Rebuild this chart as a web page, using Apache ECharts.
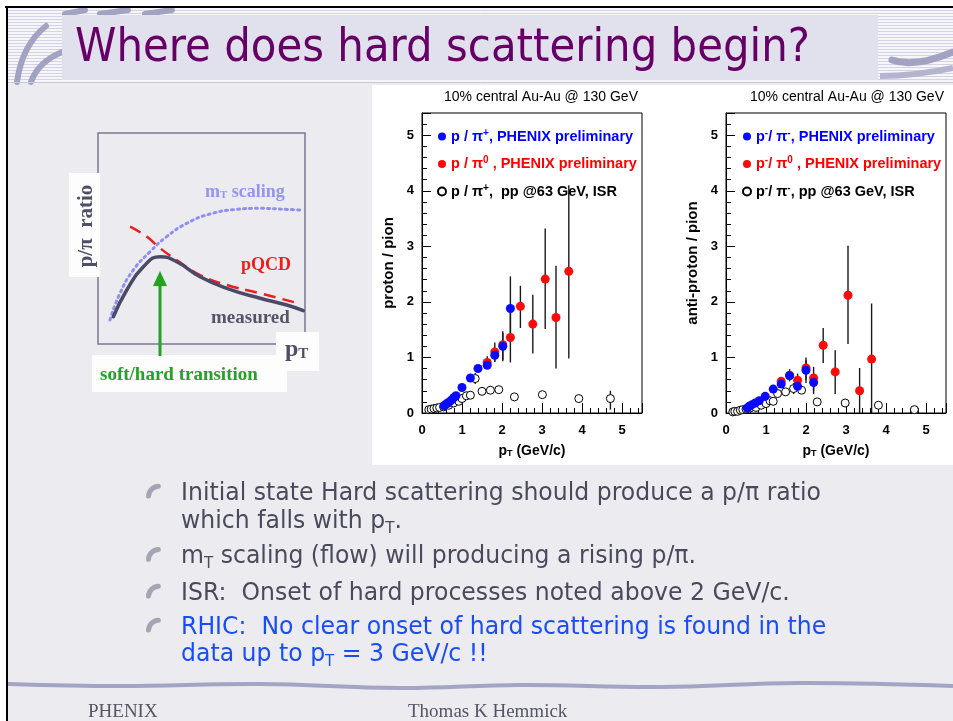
<!DOCTYPE html>
<html>
<head>
<meta charset="utf-8">
<script src="https://cdn.jsdelivr.net/npm/echarts@6/dist/echarts.min.js"></script>
<style>
html,body{margin:0;padding:0;background:#fff;}
#slide{width:953px;height:721px;}
</style>
</head>
<body>
<div id="slide"></div>
<script>
// schematic curves (frame spans 0..10 in both directions)
var measuredX = [0.74, 1.39, 2.19, 3.0, 3.8, 4.93, 6.22, 7.83, 9.12, 9.92];
var measuredY = [1.29, 2.56, 3.66, 4.14, 3.90, 3.19, 2.64, 2.17, 1.85, 1.58];
var pqcdX = [1.55, 2.35, 3.0, 3.8, 4.93, 6.22, 7.83, 9.68];
var pqcdY = [5.56, 5.09, 4.54, 3.98, 3.27, 2.80, 2.40, 1.93];
var mtX = [0.58, 1.06, 1.71, 2.51, 3.32, 4.29, 5.41, 6.70, 7.83, 9.12, 9.76];
var mtY = [1.14, 2.40, 3.51, 4.37, 5.09, 5.72, 6.16, 6.38, 6.43, 6.38, 6.35];

// proton / pion, PHENIX p/pi+ (blue)
var pPipX  = [0.55, 0.6, 0.65, 0.7, 0.75, 0.8, 0.85, 1.0, 1.21, 1.40, 1.63, 1.82, 2.02, 2.21];
var pPipY  = [0.13, 0.16, 0.18, 0.21, 0.24, 0.28, 0.31, 0.46, 0.63, 0.80, 0.86, 1.04, 1.20, 1.88];
var pPipLo = [0.12, 0.15, 0.17, 0.20, 0.23, 0.27, 0.30, 0.44, 0.60, 0.75, 0.79, 0.92, 0.96, 1.30];
var pPipHi = [0.14, 0.17, 0.19, 0.22, 0.25, 0.29, 0.32, 0.48, 0.66, 0.85, 0.93, 1.16, 1.44, 2.46];
// proton / pion, PHENIX p/pi0 (red)
var pPi0X  = [1.63, 1.82, 2.02, 2.21, 2.46, 2.77, 3.08, 3.35, 3.67];
var pPi0Y  = [0.91, 1.10, 1.23, 1.36, 1.92, 1.60, 2.41, 1.72, 2.55];
var pPi0Lo = [0.80, 0.93, 0.93, 0.91, 1.53, 1.07, 1.51, 0.80, 0.98];
var pPi0Hi = [1.02, 1.27, 1.47, 1.80, 2.29, 2.13, 3.32, 2.65, 4.10];
// proton / pion, ISR pp @ 63 GeV (open)
var pIsrX  = [0.17, 0.23, 0.30, 0.37, 0.44, 0.54, 0.67, 0.79, 0.92, 1.00, 1.11, 1.21, 1.33, 1.50, 1.71, 1.92, 2.31, 3.01, 3.92, 4.71];
var pIsrY  = [0.06, 0.07, 0.08, 0.09, 0.10, 0.11, 0.14, 0.18, 0.21, 0.26, 0.31, 0.32, 0.62, 0.39, 0.41, 0.42, 0.29, 0.33, 0.26, 0.26];
var pIsrLo = [0.05, 0.06, 0.07, 0.08, 0.09, 0.10, 0.13, 0.17, 0.20, 0.24, 0.29, 0.30, 0.52, 0.37, 0.39, 0.40, 0.27, 0.27, 0.22, 0.06];
var pIsrHi = [0.07, 0.08, 0.09, 0.10, 0.11, 0.12, 0.15, 0.19, 0.22, 0.28, 0.33, 0.34, 0.72, 0.41, 0.43, 0.44, 0.31, 0.39, 0.30, 0.40];

// anti-proton / pion, PHENIX pbar/pi- (blue)
var aPimX  = [0.53, 0.58, 0.65, 0.73, 0.83, 0.98, 1.18, 1.38, 1.59, 1.79, 2.00, 2.19];
var aPimY  = [0.09, 0.12, 0.15, 0.18, 0.22, 0.30, 0.43, 0.52, 0.67, 0.48, 0.77, 0.55];
var aPimLo = [0.08, 0.11, 0.14, 0.17, 0.21, 0.28, 0.40, 0.48, 0.60, 0.40, 0.60, 0.40];
var aPimHi = [0.10, 0.13, 0.16, 0.19, 0.23, 0.32, 0.46, 0.56, 0.74, 0.56, 0.95, 0.70];
// anti-proton / pion, PHENIX pbar/pi0 (red)
var aPi0X  = [1.38, 1.59, 1.79, 2.00, 2.19, 2.43, 2.73, 3.05, 3.34, 3.64];
var aPi0Y  = [0.57, 0.68, 0.59, 0.81, 0.63, 1.22, 0.74, 2.12, 0.40, 0.97];
var aPi0Lo = [0.50, 0.57, 0.48, 0.54, 0.34, 0.90, 0.34, 1.24, 0.00, 0.00];
var aPi0Hi = [0.64, 0.79, 0.71, 1.00, 0.83, 1.53, 1.13, 3.01, 0.81, 1.97];
// anti-proton / pion, ISR pp @ 63 GeV (open)
var aIsrX  = [0.17, 0.22, 0.29, 0.36, 0.42, 0.50, 0.60, 0.75, 0.88, 1.00, 1.10, 1.18, 1.29, 1.49, 1.69, 1.89, 2.28, 2.98, 3.81, 4.71];
var aIsrY  = [0.02, 0.03, 0.03, 0.05, 0.06, 0.07, 0.09, 0.10, 0.14, 0.17, 0.22, 0.21, 0.35, 0.38, 0.44, 0.41, 0.20, 0.18, 0.14, 0.06];
var aIsrLo = [0.01, 0.02, 0.02, 0.04, 0.05, 0.06, 0.08, 0.09, 0.13, 0.16, 0.20, 0.19, 0.30, 0.34, 0.34, 0.37, 0.18, 0.16, 0.12, 0.00];
var aIsrHi = [0.03, 0.04, 0.04, 0.06, 0.07, 0.08, 0.10, 0.11, 0.15, 0.18, 0.24, 0.23, 0.40, 0.42, 0.54, 0.45, 0.22, 0.20, 0.16, 0.12];

var plotTitle = '10% central Au-Au @ 130 GeV';
var bullets = [
  '{n|Initial state Hard scattering should produce a p/\u03c0 ratio}',
  '{n|which falls with p}{s|T}{n|.}',
  '{n|m}{s|T}{n| scaling (flow) will producing a rising p/\u03c0.}',
  '{n|ISR:  Onset of hard processes noted above 2 GeV/c.}',
  '{b|RHIC:  No clear onset of hard scattering is found in the}',
  '{b|data up to p}{bs|T}{b| = 3 GeV/c !!}'
];
var bulletBase = [501.7, 530, 565, 601.7, 635.7, 663.3];
var bulletMarks = [0, 2, 3, 4];

var plotFont = '"Liberation Sans", Arial, sans-serif';
var slideFont = '"DejaVu Sans", Verdana, sans-serif';
var serifFont = '"Liberation Serif", "Times New Roman", serif';

var measureCtx = document.createElement('canvas').getContext('2d');
function textWidth(str, font) {
  measureCtx.font = font;
  return measureCtx.measureText(str).width;
}
function pts(xs, ys) { return xs.map(function (x, i) { return [x, ys[i]]; }); }
function bars(xs, lo, hi) { return xs.map(function (x, i) { return [x, lo[i], hi[i]]; }); }

function errorBarItem(params, api) {
  var a = api.coord([api.value(0), api.value(2)]);
  var b = api.coord([api.value(0), api.value(1)]);
  return {
    type: 'line',
    shape: { x1: a[0], y1: a[1], x2: b[0], y2: b[1] },
    style: { stroke: '#1a1a1a', lineWidth: 1.4 }
  };
}
function errSeries(gi, data) {
  return { type: 'custom', xAxisIndex: gi, yAxisIndex: gi, data: data, renderItem: errorBarItem,
    encode: { x: 0, y: [1, 2] }, silent: true, z: 3 };
}
function dotSeries(gi, name, data, color, z) {
  return { type: 'scatter', name: name, xAxisIndex: gi, yAxisIndex: gi, data: data,
    symbol: 'circle', symbolSize: 9, itemStyle: { color: color, opacity: 1 }, silent: true, z: z };
}
function ringSeries(gi, name, data) {
  return { type: 'scatter', name: name, xAxisIndex: gi, yAxisIndex: gi, data: data,
    symbol: 'circle', symbolSize: 8, itemStyle: { color: '#ffffff', borderColor: '#000', borderWidth: 1, opacity: 1 },
    silent: true, z: 4 };
}
function intLabel(v) { return Math.abs(v - Math.round(v)) < 1e-6 ? String(Math.round(v)) : ''; }

var axisText = { fontFamily: plotFont, fontWeight: 'bold', fontSize: 13, color: '#000' };
function plotX(gi) {
  return {
    gridIndex: gi, type: 'value', min: 0, max: 5.5, interval: 1,
    name: 'p{s|T} (GeV/c)', nameLocation: 'middle', nameGap: 31,
    nameTextStyle: { fontFamily: plotFont, fontWeight: 'bold', fontSize: 14, color: '#000',
      rich: { s: { fontFamily: plotFont, fontWeight: 'bold', fontSize: 9, lineHeight: 8, verticalAlign: 'bottom', color: '#000' } } },
    axisLine: { lineStyle: { color: '#000', width: 1 } },
    axisTick: { inside: true, length: 10, lineStyle: { color: '#000' } },
    minorTick: { show: true, splitNumber: 5, length: 5, lineStyle: { color: '#000' } },
    splitLine: { show: false },
    axisLabel: Object.assign({ margin: 11, formatter: intLabel }, axisText)
  };
}
function plotY(gi, name) {
  return {
    gridIndex: gi, type: 'value', min: 0, max: 5.4, interval: 1,
    name: name, nameLocation: 'middle', nameGap: 26,
    nameTextStyle: { fontFamily: plotFont, fontWeight: 'bold', fontSize: 15, color: '#000' },
    axisLine: { lineStyle: { color: '#000', width: 1 } },
    axisTick: { inside: true, length: 9, lineStyle: { color: '#000' } },
    minorTick: { show: true, splitNumber: 5, length: 5, lineStyle: { color: '#000' } },
    splitLine: { show: false },
    axisLabel: Object.assign({ margin: 8, formatter: intLabel }, axisText)
  };
}

var legendLabels = {
  'pBlue': 'p / \u03c0{supB|+}, PHENIX preliminary',
  'pRed': 'p / \u03c0{supR|0} , PHENIX preliminary',
  'pIsr': 'p / \u03c0{supK|+},  pp @63 GeV, ISR',
  'aBlue': 'p{supB|-}/ \u03c0{supB|-}, PHENIX preliminary',
  'aRed': 'p{supR|-}/ \u03c0{supR|0} , PHENIX preliminary',
  'aIsr': 'p{supK|-}/ \u03c0{supK|-}, pp @63 GeV, ISR'
};
function supStyle(c) { return { fontFamily: plotFont, fontWeight: 'bold', fontSize: 10, lineHeight: 9, verticalAlign: 'top', color: c }; }
function plotLegend(left, names) {
  return {
    left: left, top: 128, orient: 'vertical', itemGap: 10.5, itemWidth: 8, itemHeight: 8,
    icon: 'circle', selectedMode: false, padding: 0,
    data: [
      { name: names[0], textStyle: { color: '#0000ff' } },
      { name: names[1], textStyle: { color: '#ff0000' } },
      { name: names[2], textStyle: { color: '#000000' } }
    ],
    formatter: function (n) { return legendLabels[n]; },
    textStyle: { fontFamily: plotFont, fontWeight: 'bold', fontSize: 14.5, lineHeight: 17,
      rich: { supB: supStyle('#0000ff'), supR: supStyle('#ff0000'), supK: supStyle('#000000') } }
  };
}

// slide decoration
var deco = [];
deco.push({ type: 'rect', z: -30, shape: { x: 0, y: 0, width: 953, height: 721 }, style: { fill: '#ffffff' } });
deco.push({ type: 'rect', z: -29, shape: { x: 8, y: 8, width: 945, height: 713 }, style: { fill: '#ececf0' } });
deco.push({ type: 'rect', z: -28, shape: { x: 8, y: 8, width: 945, height: 74 }, style: { fill: '#f6f6fa' } });
for (var sy = 10; sy < 81; sy += 3) {
  deco.push({ type: 'line', z: -27, shape: { x1: 8, y1: sy + 0.5, x2: 953, y2: sy + 0.5 }, style: { stroke: '#d3d3e3', lineWidth: 1 } });
}
var swoosh = { stroke: '#a2a2c2', lineWidth: 6, lineCap: 'round' };
deco.push({ type: 'bezierCurve', z: -26, shape: { x1: 17, y1: 82, cpx1: 22, cpy1: 45, x2: 46, y2: 26 }, style: swoosh });
deco.push({ type: 'bezierCurve', z: -26, shape: { x1: 31, y1: 82, cpx1: 38, cpy1: 62, x2: 62, y2: 52 }, style: swoosh });
deco.push({ type: 'line', z: -26, shape: { x1: 65, y1: 14, x2: 85, y2: 10 }, style: swoosh });
deco.push({ type: 'line', z: -26, shape: { x1: 100, y1: 14, x2: 128, y2: 10 }, style: swoosh });
deco.push({ type: 'line', z: -26, shape: { x1: 145, y1: 14, x2: 172, y2: 10 }, style: swoosh });
deco.push({ type: 'bezierCurve', z: -26, shape: { x1: 892, y1: 60, cpx1: 915, cpy1: 68, x2: 953, y2: 52 }, style: { stroke: '#a2a2c2', lineWidth: 7, lineCap: 'round' } });
deco.push({ type: 'bezierCurve', z: -26, shape: { x1: 880, y1: 76, cpx1: 915, cpy1: 76, x2: 953, y2: 68 }, style: { stroke: '#b4b4d0', lineWidth: 6 } });
deco.push({ type: 'rect', z: -25, shape: { x: 62, y: 15, width: 816, height: 65 }, style: { fill: '#e1e1ee' } });
deco.push({ type: 'line', z: -25, shape: { x1: 8, y1: 82.5, x2: 953, y2: 82.5 }, style: { stroke: '#c8c8dc', lineWidth: 1 } });
deco.push({ type: 'rect', z: -20, shape: { x: 372, y: 85, width: 581, height: 380 }, style: { fill: '#ffffff' } });
deco.push({ type: 'polyline', z: -20, shape: { points: [[8, 684], [120, 686], [260, 684], [400, 688], [520, 685], [660, 687], [800, 683], [953, 686]], smooth: 0.4 },
  style: { stroke: '#a4a4c4', lineWidth: 4, fill: null } });
deco.push({ type: 'line', z: 20, shape: { x1: 5, y1: 7, x2: 953, y2: 7 }, style: { stroke: '#000', lineWidth: 2 } });
deco.push({ type: 'line', z: 20, shape: { x1: 7, y1: 6, x2: 7, y2: 721 }, style: { stroke: '#000', lineWidth: 2 } });

// title
var titleText = 'Where does hard scattering begin?';
var titleFont = '46px ' + slideFont;
deco.push({ type: 'text', z: 10, x: 75, y: 49, scaleX: 735 / textWidth(titleText, titleFont),
  style: { text: titleText, x: 0, y: 0, font: titleFont, fill: '#660066', textAlign: 'left', textVerticalAlign: 'middle' } });

// bullets
var bulletScale = 640 / textWidth('Initial state Hard scattering should produce a p/\u03c0 ratio', '25px ' + slideFont);
var bRich = {
  n: { fontFamily: slideFont, fontSize: 25, lineHeight: 30, fill: '#4a4a5c' },
  s: { fontFamily: slideFont, fontSize: 16, lineHeight: 12, verticalAlign: 'bottom', fill: '#4a4a5c' },
  b: { fontFamily: slideFont, fontSize: 25, lineHeight: 30, fill: '#1a4cf5' },
  bs: { fontFamily: slideFont, fontSize: 16, lineHeight: 12, verticalAlign: 'bottom', fill: '#1a4cf5' }
};
bullets.forEach(function (t, i) {
  deco.push({ type: 'text', z: 10, x: 181, y: bulletBase[i] - 8.6, scaleX: bulletScale,
    style: { text: t, x: 0, y: 0, rich: bRich, textAlign: 'left', textVerticalAlign: 'middle' } });
});
bulletMarks.forEach(function (i) {
  var b = bulletBase[i];
  deco.push({ type: 'arc', z: 10, shape: { cx: 159, cy: b - 5, r: 10.5, startAngle: Math.PI * 1.02, endAngle: Math.PI * 1.48 },
    style: { stroke: '#a4a4b4', lineWidth: 5, fill: null, lineCap: 'round' } });
});

// footer
deco.push({ type: 'text', z: 10, x: 88, y: 712, style: { text: 'PHENIX', font: '19px ' + serifFont, fill: '#555566', textAlign: 'left', textVerticalAlign: 'middle' } });
deco.push({ type: 'text', z: 10, x: 408, y: 712, style: { text: 'Thomas K Hemmick', font: '19px ' + serifFont, fill: '#555566', textAlign: 'left', textVerticalAlign: 'middle' } });

// schematic labels
deco.push({ type: 'rect', z: 5, shape: { x: 69, y: 173, width: 31, height: 104 }, style: { fill: '#fdfdfd' } });
deco.push({ type: 'rect', z: 5, shape: { x: 276, y: 332, width: 43, height: 39 }, style: { fill: '#fdfdfd' } });
deco.push({ type: 'rect', z: 5, shape: { x: 92, y: 355, width: 195, height: 37 }, style: { fill: '#fdfdfd' } });
deco.push({ type: 'text', z: 10, x: 87, y: 226, rotation: Math.PI / 2,
  style: { text: 'p/\u03c0  ratio', font: 'bold 21px ' + serifFont, fill: '#4e4e66', textAlign: 'center', textVerticalAlign: 'middle' } });
deco.push({ type: 'text', z: 10, x: 285, y: 350,
  style: { text: 'p{s|T}', font: 'bold 24px ' + serifFont, fill: '#4e4e66', textAlign: 'left', textVerticalAlign: 'middle',
    rich: { s: { fontFamily: serifFont, fontWeight: 'bold', fontSize: 15, lineHeight: 10, verticalAlign: 'bottom', fill: '#4e4e66' } } } });
deco.push({ type: 'text', z: 10, x: 100, y: 375,
  style: { text: 'soft/hard transition', font: 'bold 19px ' + serifFont, fill: '#22a322', textAlign: 'left', textVerticalAlign: 'middle' } });
deco.push({ type: 'text', z: 10, x: 205, y: 192,
  style: { text: 'm{s|T} scaling', font: 'bold 18px ' + serifFont, fill: '#9494f0', textAlign: 'left', textVerticalAlign: 'middle',
    rich: { s: { fontFamily: serifFont, fontWeight: 'bold', fontSize: 11, lineHeight: 8, verticalAlign: 'bottom', fill: '#9494f0' } } } });
deco.push({ type: 'text', z: 10, x: 241, y: 265,
  style: { text: 'pQCD', font: 'bold 18px ' + serifFont, fill: '#ee1c1c', textAlign: 'left', textVerticalAlign: 'middle' } });
deco.push({ type: 'text', z: 10, x: 211, y: 318,
  style: { text: 'measured', font: 'bold 19px ' + serifFont, fill: '#55556a', textAlign: 'left', textVerticalAlign: 'middle' } });
deco.push({ type: 'line', z: 10, shape: { x1: 160, y1: 356, x2: 160, y2: 284 }, style: { stroke: '#22a322', lineWidth: 3 } });
deco.push({ type: 'polygon', z: 10, shape: { points: [[153, 286], [167, 286], [160, 271]] }, style: { fill: '#22a322' } });

var chart = echarts.init(document.getElementById('slide'), null, { width: 953, height: 721 });

var option = {
  animation: false,
  title: [
    { text: plotTitle, left: 444, top: 90, padding: 0, textStyle: { fontFamily: plotFont, fontWeight: 'normal', fontSize: 14, color: '#000' } },
    { text: plotTitle, left: 750, top: 90, padding: 0, textStyle: { fontFamily: plotFont, fontWeight: 'normal', fontSize: 14, color: '#000' } }
  ],
  legend: [
    plotLegend(437, ['pBlue', 'pRed', 'pIsr']),
    plotLegend(742, ['aBlue', 'aRed', 'aIsr'])
  ],
  grid: [
    { left: 98, top: 133, width: 207, height: 211, show: true, backgroundColor: 'rgba(0,0,0,0)', borderColor: '#78788e', borderWidth: 1.5 },
    { left: 422, top: 113, width: 220, height: 300, show: true, backgroundColor: '#ffffff', borderColor: '#000', borderWidth: 1 },
    { left: 726, top: 113, width: 220, height: 300, show: true, backgroundColor: '#ffffff', borderColor: '#000', borderWidth: 1 }
  ],
  xAxis: [
    { gridIndex: 0, type: 'value', min: 0, max: 10, show: false },
    plotX(1),
    plotX(2)
  ],
  yAxis: [
    { gridIndex: 0, type: 'value', min: 0, max: 10, show: false },
    plotY(1, 'proton / pion'),
    plotY(2, 'anti-proton / pion')
  ],
  graphic: { elements: deco },
  series: [
    { type: 'line', name: 'mT scaling', xAxisIndex: 0, yAxisIndex: 0, data: pts(mtX, mtY), smooth: 0.5, showSymbol: false, silent: true,
      lineStyle: { color: '#8f8ff2', width: 3, type: [2, 4], cap: 'round' }, z: 2 },
    { type: 'line', name: 'pQCD', xAxisIndex: 0, yAxisIndex: 0, data: pts(pqcdX, pqcdY), smooth: 0.5, showSymbol: false, silent: true,
      lineStyle: { color: '#ee1c1c', width: 2.5, type: [12, 7] }, z: 3 },
    { type: 'line', name: 'measured', xAxisIndex: 0, yAxisIndex: 0, data: pts(measuredX, measuredY), smooth: 0.5, showSymbol: false, silent: true,
      lineStyle: { color: '#4a4a68', width: 3.5, cap: 'round' }, z: 4 },

    errSeries(1, bars(pIsrX, pIsrLo, pIsrHi)),
    errSeries(1, bars(pPi0X, pPi0Lo, pPi0Hi)),
    errSeries(1, bars(pPipX, pPipLo, pPipHi)),
    ringSeries(1, 'pIsr', pts(pIsrX, pIsrY)),
    dotSeries(1, 'pRed', pts(pPi0X, pPi0Y), '#ff0a0a', 5),
    dotSeries(1, 'pBlue', pts(pPipX, pPipY), '#0a0aff', 6),

    errSeries(2, bars(aIsrX, aIsrLo, aIsrHi)),
    errSeries(2, bars(aPi0X, aPi0Lo, aPi0Hi)),
    errSeries(2, bars(aPimX, aPimLo, aPimHi)),
    ringSeries(2, 'aIsr', pts(aIsrX, aIsrY)),
    dotSeries(2, 'aRed', pts(aPi0X, aPi0Y), '#ff0a0a', 5),
    dotSeries(2, 'aBlue', pts(aPimX, aPimY), '#0a0aff', 6)
  ]
};

chart.setOption(option);
</script>
</body>
</html>
